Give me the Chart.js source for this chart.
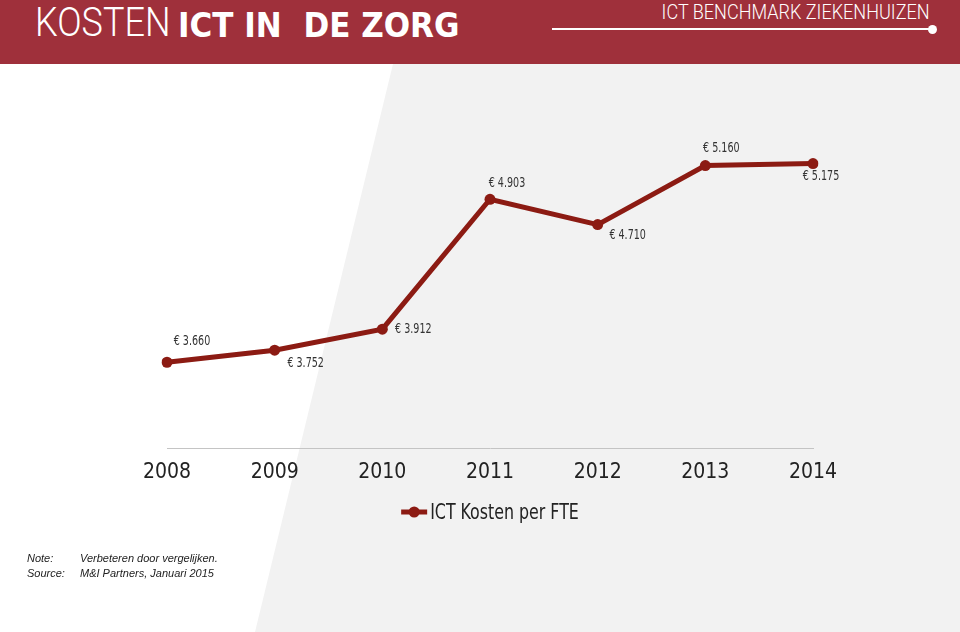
<!DOCTYPE html>
<html lang="nl">
<head>
<meta charset="UTF-8">
<title>Kosten ICT in de zorg</title>
<script src="https://cdn.jsdelivr.net/npm/chart.js"></script>
<style>
  html, body { margin:0; padding:0; }
  body { width:960px; height:632px; position:relative; overflow:hidden; background:#fff;
         font-family:'DejaVu Sans Condensed','Liberation Sans',sans-serif; }
  .grey { position:absolute; left:0; top:64px; width:960px; height:568px; background:#f2f2f2;
          clip-path: polygon(393px 0, 960px 0, 960px 568px, 255px 568px); }
  header { position:absolute; left:0; top:0; width:960px; height:64px; background:#9f303b; color:#fff; }
  header .thin { position:absolute; left:35px; top:0px; font-family:Roboto,sans-serif; font-weight:300;
                 font-size:40px; line-height:46px; white-space:nowrap; transform:scaleX(0.9); transform-origin:left; }
  header .bold { position:absolute; left:178px; top:2px; font-weight:700; font-size:34.5px; line-height:46px; white-space:nowrap; }
  header .sub { position:absolute; right:30px; top:0px; font-family:Roboto,sans-serif; font-weight:300;
                font-size:21px; line-height:24px; white-space:nowrap; transform:scaleX(0.86); transform-origin:right; }
  header .rule { position:absolute; left:552px; top:28px; width:380px; height:1.5px; background:#fff; }
  header .dot { position:absolute; left:928px; top:25px; width:9px; height:9px; border-radius:50%; background:#fff; }
  #wrap { position:absolute; left:0; top:64px; width:960px; height:568px; }
  .notes { position:absolute; left:27px; top:551px; font-family:'Liberation Sans',Arial,sans-serif;
           font-style:italic; font-size:11px; line-height:15px; color:#222; }
  .notes span { display:inline-block; width:53px; }
</style>
</head>
<body>
<header>
  <div class="thin">KOSTEN</div>
  <div class="bold">ICT IN&nbsp; DE ZORG</div>
  <div class="sub">ICT BENCHMARK ZIEKENHUIZEN</div>
  <div class="rule"></div>
  <div class="dot"></div>
</header>
<div class="grey"></div>
<div id="wrap"><canvas id="chart"></canvas></div>
<div class="notes">
  <div><span>Note:</span>Verbeteren door vergelijken.</div>
  <div><span>Source:</span>M&amp;I Partners, Januari 2015</div>
</div>

<script>
const years = ['2008', '2009', '2010', '2011', '2012', '2013', '2014'];
const ictCostPerFte = [3660, 3752, 3912, 4903, 4710, 5160, 5175];
const seriesLabel = 'ICT Kosten per FTE';

const FONT = "'DejaVu Sans Condensed','Liberation Sans',sans-serif";
const RED = '#8c1b13';

// where each value label sits relative to its point (dx, dy)
const labelOffsets = [[25, -21], [31, 13], [31, 0], [17, -16], [30, 11], [16, -17], [8, 13]];

function euro(v) {
  const s = String(Math.round(v));
  return '€ ' + s.replace(/\B(?=(\d{3})+(?!\d))/g, '.');
}

// text squeezed horizontally to get the condensed look of the original
function narrowText(ctx, text, x, y, squeeze) {
  ctx.save();
  ctx.translate(x, y);
  ctx.scale(squeeze, 1);
  ctx.fillText(text, 0, 0);
  ctx.restore();
}

const valueLabels = {
  id: 'valueLabels',
  afterDatasetsDraw(chart) {
    const ctx = chart.ctx;
    const meta = chart.getDatasetMeta(0);
    ctx.save();
    ctx.font = '14px ' + FONT;
    ctx.fillStyle = '#333';
    ctx.textAlign = 'center';
    ctx.textBaseline = 'middle';
    meta.data.forEach((pt, i) => {
      const o = labelOffsets[i];
      narrowText(ctx, euro(chart.data.datasets[0].data[i]), pt.x + o[0], pt.y + o[1], 0.76);
    });
    ctx.restore();
  }
};

const lineLegend = {
  id: 'lineLegend',
  afterDraw(chart) {
    const ctx = chart.ctx;
    const label = chart.data.datasets[0].label;
    const squeeze = 0.8;
    ctx.save();
    ctx.font = '22px ' + FONT;
    const tw = ctx.measureText(label).width * squeeze;
    const total = 26 + 3 + tw;
    const cx = (chart.chartArea.left + chart.chartArea.right) / 2;
    const x0 = cx - total / 2;
    const y = 448;
    ctx.strokeStyle = RED;
    ctx.lineWidth = 5;
    ctx.beginPath();
    ctx.moveTo(x0, y);
    ctx.lineTo(x0 + 26, y);
    ctx.stroke();
    ctx.fillStyle = RED;
    ctx.beginPath();
    ctx.arc(x0 + 13, y, 5.5, 0, Math.PI * 2);
    ctx.fill();
    ctx.fillStyle = '#222';
    ctx.textAlign = 'left';
    ctx.textBaseline = 'middle';
    narrowText(ctx, label, x0 + 29, y + 1, squeeze);
    ctx.restore();
  }
};

new Chart(document.getElementById('chart'), {
  type: 'line',
  data: {
    labels: years,
    datasets: [{
      label: seriesLabel,
      data: ictCostPerFte,
      borderColor: RED,
      backgroundColor: RED,
      borderWidth: 5,
      pointRadius: 5.5,
      pointBorderWidth: 0,
      pointBackgroundColor: RED,
      tension: 0
    }]
  },
  options: {
    responsive: true,
    maintainAspectRatio: false,
    animation: false,
    layout: { padding: { left: 167, right: 147, top: 57, bottom: 136 } },
    plugins: { legend: { display: false }, tooltip: { enabled: false } },
    scales: {
      x: {
        offset: false,
        grid: { display: false, drawTicks: false },
        border: { display: true, color: '#c4c4c4', width: 1 },
        ticks: { color: '#222', padding: 11, font: { family: FONT, size: 21 }, maxRotation: 0 }
      },
      y: { display: false, min: 3000, max: 5500 }
    }
  },
  plugins: [valueLabels, lineLegend]
});
</script>
</body>
</html>
